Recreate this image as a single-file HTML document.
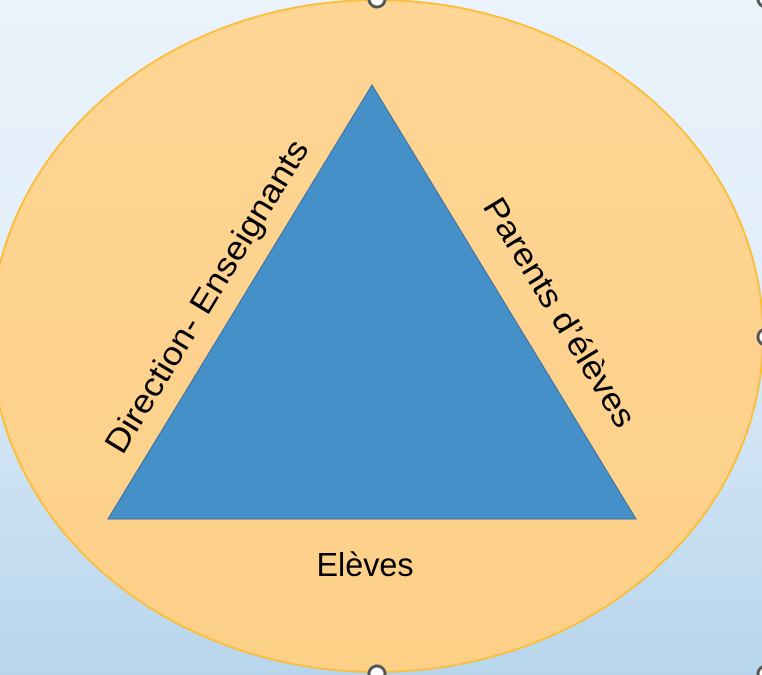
<!DOCTYPE html>
<html><head><meta charset="utf-8"><style>
html,body{margin:0;padding:0;}
body{width:762px;height:675px;overflow:hidden;background:linear-gradient(#eaf3fb,#e2eef9 40%,#b7d5ec);}
</style></head><body>
<svg width="762" height="675" viewBox="0 0 762 675" xmlns="http://www.w3.org/2000/svg" style="position:absolute;left:0;top:0">
<defs><linearGradient id="g" x1="0" y1="0" x2="0" y2="1"><stop offset="0" stop-color="#fed594"/><stop offset="1" stop-color="#fdd088"/></linearGradient></defs>
<ellipse cx="377" cy="336" rx="386" ry="336" fill="url(#g)" stroke="#fbbe3c" stroke-width="2"/>
<polygon points="372,85 108,519 636,519" fill="#4690c9" stroke="#3a6e9e" stroke-width="1"/>
<g font-family="Liberation Sans Narrow, Liberation Sans, sans-serif" font-size="33" fill="#000">
<text x="0" y="0" text-anchor="middle" textLength="360" lengthAdjust="spacingAndGlyphs" transform="translate(216,302) rotate(-58.7)">Direction- Enseignants</text>
<text x="0" y="0" text-anchor="middle" textLength="262" lengthAdjust="spacingAndGlyphs" transform="translate(550,318) rotate(58.7)">Parents d’élèves</text>
<text x="365" y="576" text-anchor="middle" textLength="97" lengthAdjust="spacingAndGlyphs">Elèves</text>
</g>
<g fill="#fff" stroke="#555" stroke-width="3">
<circle cx="377" cy="-1" r="8"/>
<circle cx="377" cy="674" r="8"/>
<circle cx="766" cy="337" r="8"/>
<circle cx="766" cy="-1" r="8"/>
<circle cx="766" cy="674" r="8"/>
</g>
</svg>
</body></html>
